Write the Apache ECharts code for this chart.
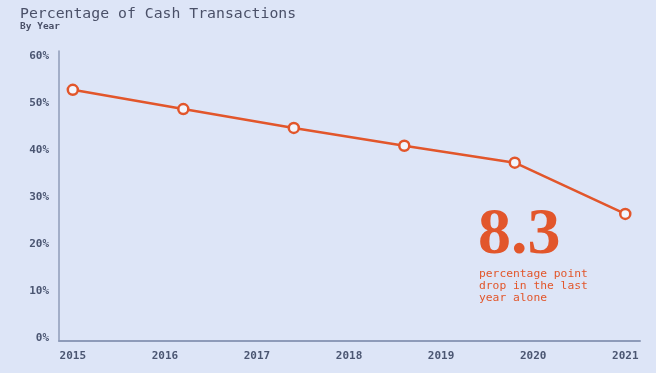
<!DOCTYPE html>
<html>
<head>
<meta charset="utf-8">
<script src="https://cdn.jsdelivr.net/npm/echarts@6/dist/echarts.min.js"></script>
<style>
html,body{margin:0;padding:0;background:#dde5f7;}
#chart{width:656px;height:373px;}
</style>
</head>
<body>
<div id="chart"></div>
<script>
var years = [2015, 2016.2, 2017.4, 2018.6, 2019.8, 2021];
var cashShare = [52.8, 48.7, 44.7, 40.9, 37.3, 26.4];
var xTickLabels = [2015, 2016, 2017, 2018, 2019, 2020, 2021];
var yTickLabels = [0, 10, 20, 30, 40, 50, 60];
var calloutNumber = '8.3';
var calloutLines = ['percentage point', 'drop in the last', 'year alone'];

var chart = echarts.init(document.getElementById('chart'), null, {renderer: 'canvas'});
var mono = '"DejaVu Sans Mono", monospace';
var orange = '#e2562b';
var axisColor = '#8e9bb9';
var labelColor = '#4b5672';

chart.setOption({
  backgroundColor: '#dde5f7',
  animation: false,
  title: {
    text: 'Percentage of Cash Transactions',
    subtext: 'By Year',
    left: 20,
    top: 7,
    padding: 0,
    itemGap: 0,
    textStyle: {fontFamily: mono, fontSize: 14.8, fontWeight: 'normal', color: '#4a5068'},
    subtextStyle: {fontFamily: mono, fontSize: 9.5, fontWeight: 'bold', color: '#4a5068'}
  },
  grid: {left: 59, right: 16, top: 51, bottom: 32, containLabel: false},
  xAxis: {
    type: 'value',
    min: 2014.85,
    max: 2021.16,
    splitLine: {show: false},
    axisLine: {onZero: false, lineStyle: {color: axisColor, width: 2}},
    axisTick: {show: false},
    axisLabel: {
      customValues: xTickLabels,
      formatter: function (v) { return String(v); },
      fontFamily: mono, fontSize: 11, fontWeight: 'bold', color: labelColor, margin: 10
    }
  },
  yAxis: {
    type: 'value',
    min: -0.64,
    max: 61.06,
    splitLine: {show: false},
    axisLine: {show: true, onZero: false, lineStyle: {color: axisColor, width: 1.5}},
    axisTick: {show: false},
    axisLabel: {
      customValues: yTickLabels,
      formatter: function (v) { return v + '%'; },
      fontFamily: mono, fontSize: 11, fontWeight: 'bold', color: labelColor, margin: 10
    }
  },
  series: [{
    type: 'line',
    data: years.map(function (y, i) { return [y, cashShare[i]]; }),
    symbol: 'circle',
    symbolSize: 10,
    lineStyle: {color: orange, width: 2.5},
    itemStyle: {color: '#f2f5fd', borderColor: orange, borderWidth: 2.5}
  }],
  graphic: [
    {
      type: 'text',
      left: 478,
      top: 203,
      style: {text: calloutNumber, fill: orange, font: 'bold 66px "Liberation Serif", serif'}
    },
    {
      type: 'text',
      left: 479,
      top: 268,
      style: {
        text: calloutLines.join('\n'),
        fill: orange,
        font: '11.3px ' + mono,
        lineHeight: 12
      }
    }
  ]
});
</script>
</body>
</html>
